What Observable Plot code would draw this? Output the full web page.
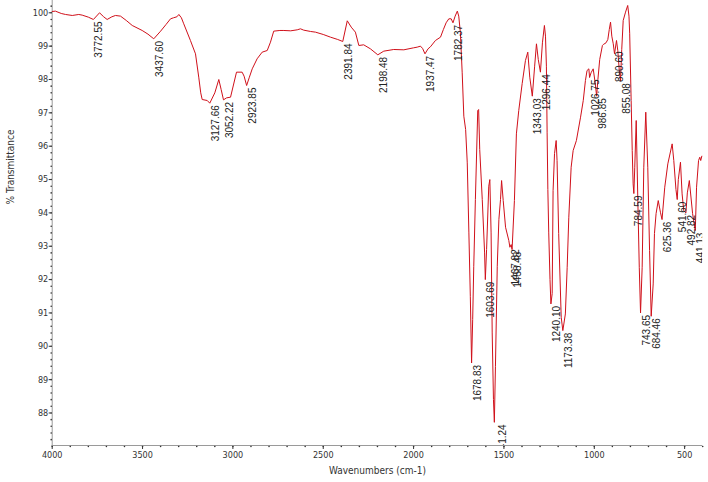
<!DOCTYPE html>
<html>
<head>
<meta charset="utf-8">
<script src="https://cdn.jsdelivr.net/npm/d3@7"></script>
<script src="https://cdn.jsdelivr.net/npm/@observablehq/plot@0.6"></script>
<style>
  html, body { margin: 0; padding: 0; background: #ffffff; }
</style>
</head>
<body>
<div id="chart"></div>
<script>
// Spectrum: wavenumbers (cm-1) and % transmittance
const wavenumbers = [4000,3982,3950,3926,3889,3853,3834,3800,3772,3738,3715,3696,3670,3650,3622,3590,3557,3502,3470,3438,3400,3370,3345,3329,3310,3299,3285,3272,3235,3207,3189,3178,3170,3142,3128,3100,3078,3065,3052,3035,3013,2980,2949,2938,2924,2910,2893,2866,2838,2810,2792,2774,2740,2718,2680,2644,2626,2608,2570,2543,2500,2460,2420,2392,2367,2345,2322,2303,2276,2239,2198,2165,2110,2054,2000,1980,1962,1950,1937,1920,1907,1879,1851,1835,1820,1805,1792,1782,1770,1758,1750,1741,1731,1722,1712,1703,1694,1686,1679,1673,1667,1658,1645,1640,1634,1620,1607,1603,1596,1584,1578,1571,1565,1558,1553,1547,1537,1528,1519,1513,1504,1491,1473,1467,1460,1455,1442,1431,1418,1399,1381,1368,1357,1343,1330,1320,1310,1298,1287,1276,1270,1265,1261,1257,1252,1245,1240,1233,1228,1220,1211,1206,1197,1183,1174,1160,1150,1141,1128,1117,1099,1076,1061,1049,1040,1030,1026,1018,1006,995,987,980,970,955,950,935,925,917,910,903,895,888,877,870,862,855,848,840,827,815,808,804,796,790,785,781,776,768,759,751,744,735,726,715,704,694,685,674,667,658,646,634,625,610,593,569,560,548,541,535,523,514,505,493,485,474,456,441,434,423,416,411,405];
const transmittance = [100.04,100.05,99.98,99.95,99.92,99.95,99.93,99.87,99.80,100.0,99.88,99.80,99.88,99.92,99.90,99.77,99.62,99.47,99.36,99.22,99.45,99.65,99.82,99.85,99.88,99.95,99.85,99.67,99.17,98.77,98.07,97.6,97.40,97.37,97.29,97.6,98.00,97.7,97.39,97.45,97.47,98.22,98.22,98.1,97.82,98.05,98.32,98.62,98.82,98.87,99.12,99.45,99.47,99.47,99.46,99.49,99.52,99.48,99.44,99.42,99.35,99.27,99.2,99.14,99.76,99.57,99.42,99.02,99.04,98.92,98.74,98.85,98.9,98.89,98.95,98.97,99.0,98.93,98.77,98.92,98.98,99.17,99.27,99.5,99.7,99.82,99.82,99.70,99.9,100.05,99.9,99.4,98.2,96.9,96.5,95.5,93.4,91.5,89.5,90.8,92.4,94.4,97.07,97.1,95.9,94.4,92.8,92.0,92.9,94.8,95.0,93.4,90.4,88.4,87.72,89.4,92.4,93.8,94.4,94.97,94.37,93.57,93.17,92.97,93.05,92.9,94.37,96.37,97.07,97.88,98.57,98.82,98.07,97.5,98.4,99.07,98.6,98.22,99.1,99.62,99.3,98.4,96.4,94.7,93.4,92.0,91.27,91.58,94.67,95.78,96.17,95.57,93.38,90.87,90.47,90.97,92.37,93.87,95.37,95.87,96.17,96.87,97.37,97.97,98.27,98.32,98.06,98.2,98.32,97.9,97.5,98.0,98.6,99.02,99.05,99.1,99.2,99.5,99.72,99.3,99.07,98.77,99.17,98.87,98.3,97.95,98.9,99.77,100.02,100.22,99.9,99.37,97.37,95.87,94.87,94.58,95.37,96.77,94.37,92.37,91.0,92.37,95.37,97.02,95.37,92.87,90.9,91.87,93.38,93.98,94.37,94.02,93.8,94.77,95.47,96.07,95.57,94.7,94.4,95.0,95.52,94.57,94.07,94.0,94.6,94.97,93.98,93.47,94.77,95.57,95.67,95.57,95.7];

// Peak labels
const peakLabels = ["3772.55","3437.60","3127.66","3052.22","2923.85","2391.84","2198.48","1937.47","1782.37","1678.83","1603.69","1541.24","1467.82","1458.48","1343.03","1296.44","1240.10","1173.38","1026.75","986.85","890.60","855.08","784.59","743.65","684.46","625.36","541.60","492.82","441.13"];
const peakT = [99.8,99.22,97.29,97.39,97.82,99.14,98.74,98.77,99.70,89.5,92.0,87.72,92.97,92.9,97.5,98.22,91.27,90.47,98.06,97.5,98.9,97.95,94.58,91.0,90.9,93.8,94.4,94.0,93.47];

// Axis ticks
const xTicks = [4000,3500,3000,2500,2000,1500,1000,500];
const yTicks = [88,89,90,91,92,93,94,95,96,97,98,99,100];
const xMinor = d3.range(4000, 399, -100);
const yMinor = d3.range(87.2, 100.3, 0.2).map(v => Math.round(v * 10) / 10);

const xDomain = [4000, 400];
const yDomain = [87.025, 100.369];

const spectrum = wavenumbers.map((w, i) => ({w, t: transmittance[i]}));
const peaks = peakLabels.map((s, i) => ({label: s, w: +s, t: peakT[i]}));

const narrow = "'Liberation Sans Narrow', 'Arial Narrow', 'DejaVu Sans Condensed', sans-serif";

const chart = Plot.plot({
  width: 708,
  height: 482,
  marginLeft: 51.7,
  marginRight: 5.8,
  marginTop: 0,
  marginBottom: 37,
  style: {fontFamily: narrow, fontSize: "9px", color: "#333", background: "#ffffff"},
  x: {domain: xDomain, ticks: xTicks, tickSize: 4, tickPadding: 2, tickFormat: d => String(d), label: null},
  y: {domain: yDomain, ticks: yTicks, tickSize: 3, tickPadding: 1, tickFormat: d => String(d), label: null},
  marks: [
    Plot.ruleX([xDomain[0]], {stroke: "#9a9a9a", strokeWidth: 1}),
    Plot.ruleY([yDomain[0]], {stroke: "#9a9a9a", strokeWidth: 1}),
    Plot.dot(xMinor, {x: d => d, y: yDomain[0], r: 0.8, fill: "#333", stroke: null, dy: 1}),
    Plot.dot(yMinor, {x: xDomain[0], y: d => d, r: 0.8, fill: "#333", stroke: null, dx: -1}),
    Plot.line(spectrum, {x: "w", y: "t", stroke: "#d0101a", strokeWidth: 1}),
    Plot.text(peaks, {x: "w", y: "t", text: "label", rotate: -90, textAnchor: "end", lineAnchor: "top",
      dx: 2, dy: 2, fontSize: 10, fontFamily: "'Liberation Sans', Arial, sans-serif", fill: "#222", clip: true}),
    Plot.text(["% Transmittance"], {frameAnchor: "left", rotate: -90, dx: -41.7, dy: -18.5, fontSize: 10, fill: "#333"}),
    Plot.text(["Wavenumbers (cm-1)"], {frameAnchor: "bottom", dy: 28, fontSize: 10, fill: "#333"})
  ]
});
document.getElementById("chart").appendChild(chart);
</script>
</body>
</html>
